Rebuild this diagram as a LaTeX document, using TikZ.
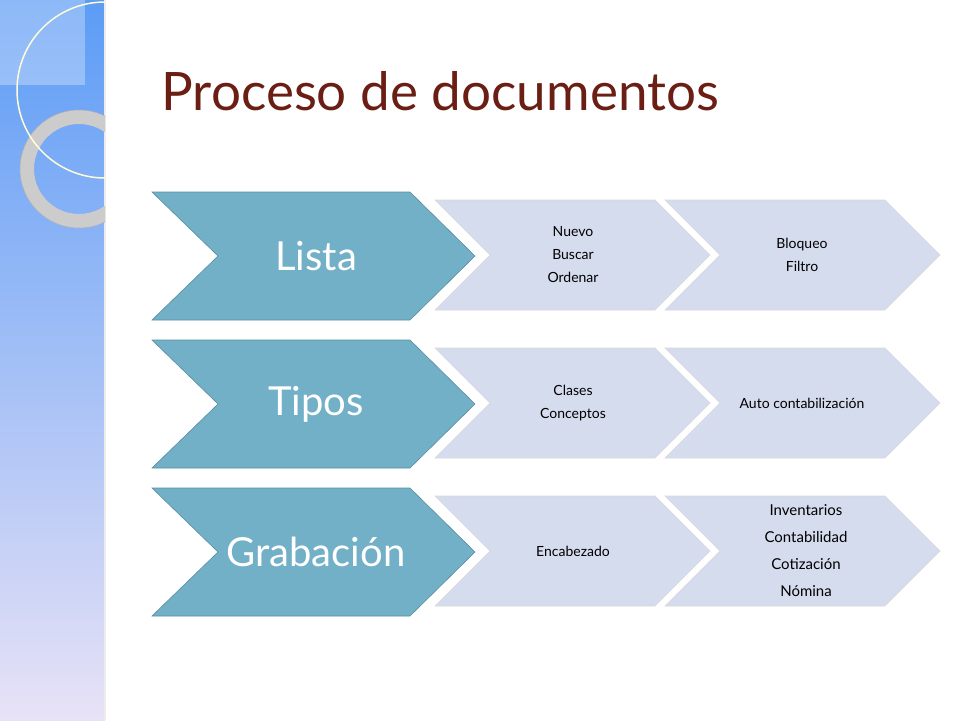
\documentclass[tikz,border=0pt]{standalone}
\usepackage{fontspec}
\setmainfont{Lato}
\definecolor{bigc}{HTML}{72B0C8}
\definecolor{smallc}{HTML}{D5DCEE}
\definecolor{titlec}{HTML}{6A1E14}
\definecolor{bartop}{HTML}{5C9CF6}
\definecolor{barbot}{HTML}{E8E2F6}
\tikzset{
 big/.style={fill=bigc, draw=bigc!80!black, line width=0.6pt},
 small/.style={fill=smallc, draw=white!85!black, line width=0.6pt},
 bigtxt/.style={text=white, font=\fontsize{40}{42}\selectfont},
 smtxt/.style={font=\fontsize{14}{23}\selectfont, align=center}
}
\begin{document}
\begin{tikzpicture}[x=1pt,y=-1pt]
\useasboundingbox (0,0) rectangle (960,720);
\fill[white] (0,0) rectangle (960,720);
\shade[top color=bartop, bottom color=barbot] (0,0) rectangle (105,720);
\draw[white!85!gray, line width=1.5pt] (105,0) -- (105,720);
\begin{scope}
\clip (0,0) rectangle (105,720);
\fill[white, opacity=0.3] (0,0) rectangle (85,85);
\draw[gray!40, line width=14pt] (79,169) circle (52);
\draw[gray!60, line width=0.5pt] (79,169) circle (59);
\draw[yellow!15!white, line width=1.5pt] (105,90) circle (88);
\end{scope}
\node[anchor=base west, text=titlec, font=\fontsize{53}{56}\selectfont] (title) at (158,110) {Proceso de documentos};
% rows
\foreach \y/\n in {0/a,148/b,296/c}{
 \begin{scope}[yshift=-\y]
 \draw[small] (665,200) -- (885,200) -- (940,255) -- (885,310) -- (665,310) -- (720,255) -- cycle;
 \draw[small] (435,200) -- (655,200) -- (710,255) -- (655,310) -- (435,310) -- (490,255) -- cycle;
 \draw[big] (152,192) -- (410,192) -- (475,256) -- (410,320) -- (152,320) -- (218,256) -- cycle;
 \end{scope}
}
\node[bigtxt] (l1) at (316,256) {Lista};
\node[bigtxt] (l2) at (316,404) {Tipos};
\node[bigtxt] (l3) at (316,552) {Grabación};
\node[smtxt] (s1) at (573,255) {Nuevo\\Buscar\\Ordenar};
\node[smtxt] (t1) at (802,255) {Bloqueo\\Filtro};
\node[smtxt] (s2) at (573,403) {Clases\\Conceptos};
\node[smtxt] (t2) at (802,403) {Auto contabilización};
\node[smtxt] (s3) at (573,551) {Encabezado};
\node[smtxt, font=\fontsize{15}{27}\selectfont] (t3) at (806,551) {Inventarios\\Contabilidad\\Cotización\\Nómina};
\end{tikzpicture}
\end{document}
